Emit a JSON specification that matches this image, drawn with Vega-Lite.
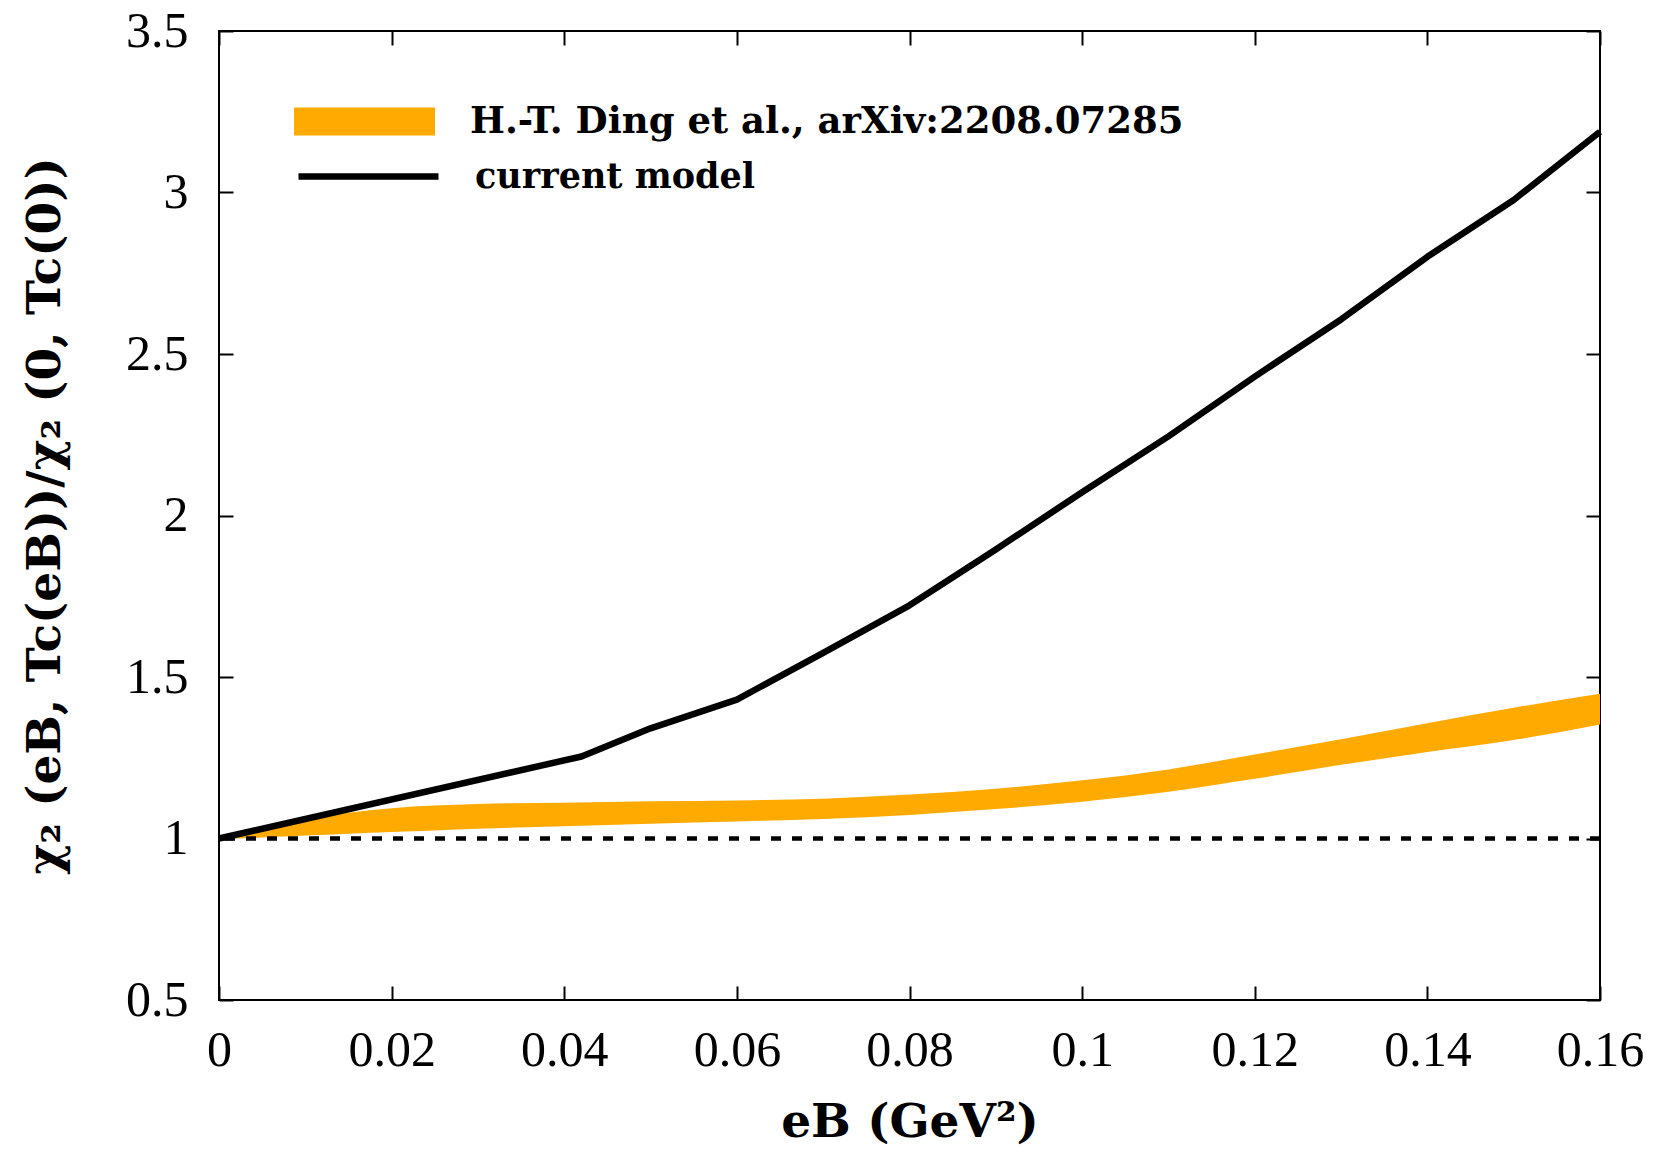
{
  "$schema": "https://vega.github.io/schema/vega-lite/v6.json",
  "autosize": "none",
  "width": 1381,
  "height": 969,
  "padding": {"left": 219, "top": 31, "right": 63, "bottom": 152},
  "background": "white",
  "config": {
    "view": {"stroke": "black", "strokeWidth": 2},
    "axis": {"domain": false, "grid": false, "tickColor": "black", "tickWidth": 2, "tickSize": -14, "labelColor": "black", "titleColor": "black", "labelOverlap": false, "labelFlush": false}
  },
  "datasets": {
    "band": [
      {"eB": 0.0, "lo": 0.997, "hi": 1.008, "series": "H.-T. Ding et al., arXiv:2208.07285"},
      {"eB": 0.005, "lo": 1.003, "hi": 1.035, "series": "H.-T. Ding et al., arXiv:2208.07285"},
      {"eB": 0.01, "lo": 1.009, "hi": 1.060, "series": "H.-T. Ding et al., arXiv:2208.07285"},
      {"eB": 0.015, "lo": 1.015, "hi": 1.080, "series": "H.-T. Ding et al., arXiv:2208.07285"},
      {"eB": 0.02, "lo": 1.020, "hi": 1.094, "series": "H.-T. Ding et al., arXiv:2208.07285"},
      {"eB": 0.025, "lo": 1.025, "hi": 1.102, "series": "H.-T. Ding et al., arXiv:2208.07285"},
      {"eB": 0.03, "lo": 1.030, "hi": 1.107, "series": "H.-T. Ding et al., arXiv:2208.07285"},
      {"eB": 0.04, "lo": 1.038, "hi": 1.111, "series": "H.-T. Ding et al., arXiv:2208.07285"},
      {"eB": 0.05, "lo": 1.046, "hi": 1.115, "series": "H.-T. Ding et al., arXiv:2208.07285"},
      {"eB": 0.06, "lo": 1.053, "hi": 1.118, "series": "H.-T. Ding et al., arXiv:2208.07285"},
      {"eB": 0.07, "lo": 1.060, "hi": 1.123, "series": "H.-T. Ding et al., arXiv:2208.07285"},
      {"eB": 0.08, "lo": 1.073, "hi": 1.136, "series": "H.-T. Ding et al., arXiv:2208.07285"},
      {"eB": 0.09, "lo": 1.091, "hi": 1.154, "series": "H.-T. Ding et al., arXiv:2208.07285"},
      {"eB": 0.10, "lo": 1.114, "hi": 1.180, "series": "H.-T. Ding et al., arXiv:2208.07285"},
      {"eB": 0.11, "lo": 1.145, "hi": 1.214, "series": "H.-T. Ding et al., arXiv:2208.07285"},
      {"eB": 0.12, "lo": 1.185, "hi": 1.260, "series": "H.-T. Ding et al., arXiv:2208.07285"},
      {"eB": 0.13, "lo": 1.228, "hi": 1.307, "series": "H.-T. Ding et al., arXiv:2208.07285"},
      {"eB": 0.14, "lo": 1.268, "hi": 1.357, "series": "H.-T. Ding et al., arXiv:2208.07285"},
      {"eB": 0.15, "lo": 1.305, "hi": 1.405, "series": "H.-T. Ding et al., arXiv:2208.07285"},
      {"eB": 0.16, "lo": 1.353, "hi": 1.448, "series": "H.-T. Ding et al., arXiv:2208.07285"}
    ],
    "model": [
      {"eB": 0.0, "chi": 1.0, "model": "current model"},
      {"eB": 0.042, "chi": 1.254, "model": "current model"},
      {"eB": 0.05, "chi": 1.341, "model": "current model"},
      {"eB": 0.06, "chi": 1.43, "model": "current model"},
      {"eB": 0.07, "chi": 1.575, "model": "current model"},
      {"eB": 0.08, "chi": 1.722, "model": "current model"},
      {"eB": 0.09, "chi": 1.895, "model": "current model"},
      {"eB": 0.10, "chi": 2.072, "model": "current model"},
      {"eB": 0.11, "chi": 2.245, "model": "current model"},
      {"eB": 0.12, "chi": 2.43, "model": "current model"},
      {"eB": 0.13, "chi": 2.607, "model": "current model"},
      {"eB": 0.14, "chi": 2.801, "model": "current model"},
      {"eB": 0.15, "chi": 2.977, "model": "current model"},
      {"eB": 0.16, "chi": 3.188, "model": "current model"}
    ],
    "ref": [{"level": 1.0}]
  },
  "layer": [
    {
      "data": {"name": "band"},
      "mark": {"type": "area", "interpolate": "monotone", "opacity": 1},
      "encoding": {
        "x": {"field": "eB", "type": "quantitative", "scale": {"domain": [0, 0.16], "nice": false, "zero": false},
          "axis": {"orient": "bottom", "values": [0, 0.02, 0.04, 0.06, 0.08, 0.1, 0.12, 0.14, 0.16], "labelExpr": "format(datum.value, '~g')", "labelFont": "Liberation Serif", "labelFontSize": 50, "labelFontWeight": "normal", "labelPadding": 39, "title": "eB (GeV²)", "titleFont": "DejaVu Serif", "titleFontSize": 47, "titleFontWeight": "bold", "titlePadding": 24}},
        "y": {"field": "lo", "type": "quantitative", "scale": {"domain": [0.5, 3.5], "nice": false, "zero": false},
          "axis": {"orient": "left", "values": [0.5, 1, 1.5, 2, 2.5, 3, 3.5], "labelExpr": "format(datum.value, '~g')", "labelFont": "Liberation Serif", "labelFontSize": 50, "labelFontWeight": "normal", "labelPadding": 45, "title": "χ₂ (eB, Tc(eB))/χ₂ (0, Tc(0))", "titleFont": "DejaVu Serif", "titleFontSize": 47, "titleFontWeight": "bold", "titlePadding": 56}},
        "y2": {"field": "hi"},
        "fill": {"field": "series", "type": "nominal", "scale": {"domain": ["H.-T. Ding et al., arXiv:2208.07285"], "range": ["#ffaa00"]},
          "legend": {"orient": "none", "legendX": 75, "legendY": 20, "title": null, "padding": 0, "symbolType": "M-1,-0.2H1V0.2H-1Z", "symbolSize": 19881, "symbolStrokeWidth": 0, "symbolOpacity": 1, "symbolOffset": 0, "labelOffset": 35, "labelFont": "DejaVu Serif", "labelFontWeight": "bold", "labelFontSize": 37, "labelColor": "black", "labelLimit": 2000}}
      }
    },
    {
      "data": {"name": "ref"},
      "mark": {"type": "rule", "color": "black", "strokeWidth": 4.5, "strokeDash": [10, 11]},
      "encoding": {"y": {"field": "level", "type": "quantitative", "axis": null}}
    },
    {
      "data": {"name": "model"},
      "mark": {"type": "line", "strokeWidth": 6.5, "strokeJoin": "round"},
      "encoding": {
        "x": {"field": "eB", "type": "quantitative",
          "axis": {"orient": "top", "values": [0, 0.02, 0.04, 0.06, 0.08, 0.1, 0.12, 0.14, 0.16], "labels": false, "title": null}},
        "y": {"field": "chi", "type": "quantitative",
          "axis": {"orient": "right", "values": [0.5, 1, 1.5, 2, 2.5, 3, 3.5], "labels": false, "title": null}},
        "stroke": {"field": "model", "type": "nominal", "scale": {"domain": ["current model"], "range": ["black"]},
          "legend": {"orient": "none", "legendX": 76, "legendY": 72, "title": null, "padding": 0, "symbolType": "stroke", "symbolSize": 19600, "symbolStrokeWidth": 6.5, "symbolOffset": 0, "labelOffset": 33, "labelFont": "DejaVu Serif", "labelFontWeight": "bold", "labelFontSize": 35, "labelColor": "black", "labelLimit": 2000}}
      }
    }
  ],
  "resolve": {"axis": {"x": "independent", "y": "independent"}}
}
